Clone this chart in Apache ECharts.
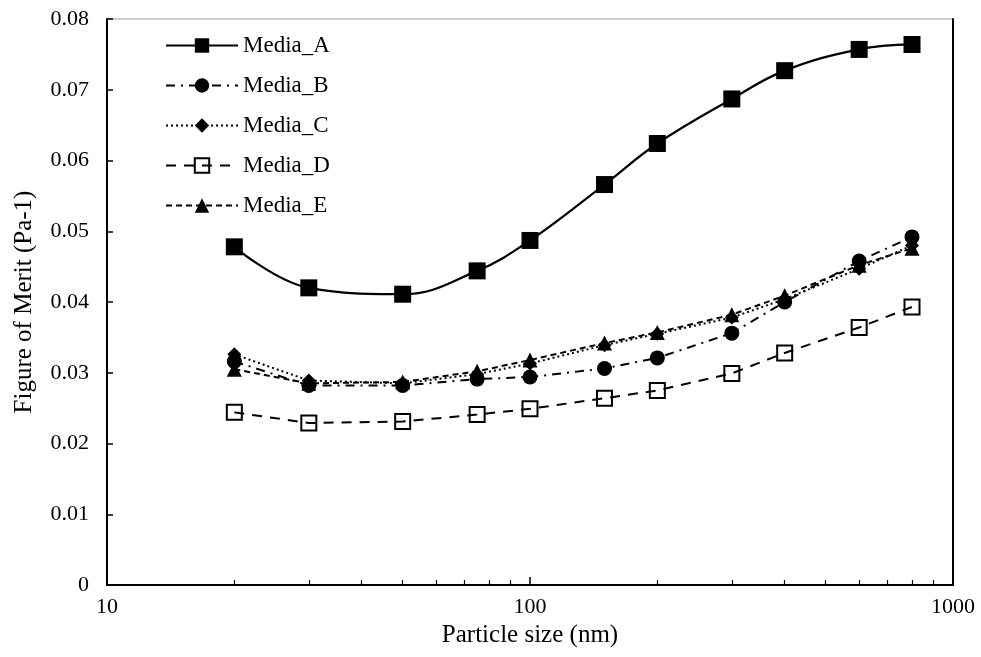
<!DOCTYPE html>
<html>
<head>
<meta charset="utf-8">
<script src="https://cdn.jsdelivr.net/npm/echarts@6/dist/echarts.min.js"></script>
<style>html,body{margin:0;padding:0;background:#fff;}#c{width:981px;height:657px;}</style>
</head>
<body>
<div id="c"></div>
<script>
var sizes = [20, 30, 50, 75, 100, 150, 200, 300, 400, 600, 800];
var mediaA = [0.0478, 0.0420, 0.0411, 0.0444, 0.0487, 0.0566, 0.0624, 0.0687, 0.0727, 0.0757, 0.0764];
var mediaB = [0.0316, 0.0282, 0.0282, 0.0291, 0.0294, 0.0306, 0.0321, 0.0356, 0.0400, 0.0458, 0.0492];
var mediaC = [0.0326, 0.0289, 0.0285, 0.0298, 0.0313, 0.0339, 0.0355, 0.0378, 0.0404, 0.0447, 0.0480];
var mediaD = [0.0244, 0.0229, 0.0231, 0.0241, 0.0249, 0.0264, 0.0275, 0.0299, 0.0328, 0.0364, 0.0393];
var mediaE = [0.0305, 0.0285, 0.0287, 0.0302, 0.0318, 0.0342, 0.0357, 0.0382, 0.0409, 0.0452, 0.0476];
var minorTicks = [20, 30, 40, 50, 60, 70, 80, 90, 200, 300, 400, 500, 600, 700, 800, 900];

function pairs(vals) { return sizes.map(function (s, i) { return [s, vals[i]]; }); }

var FONT = 'Liberation Serif';
var chart = echarts.init(document.getElementById('c'), null, {renderer: 'canvas'});
var base = function (name, vals, symbol, symSize, lineType, extra) {
  var s = {
    name: name, type: 'line', data: pairs(vals), symbol: symbol, symbolSize: symSize,
    lineStyle: {color: '#000', width: 2, type: lineType},
    itemStyle: {color: '#000', borderColor: '#000', borderWidth: 0},
    emphasis: {disabled: true}, animation: false
  };
  if (extra) Object.keys(extra).forEach(function (k) { s[k] = extra[k]; });
  return s;
};
var option = {
  animation: false,
  grid: {left: 107, right: 28, top: 19, bottom: 72, show: true, borderColor: '#999', borderWidth: 1},
  legend: {
    left: 160, top: 29, orient: 'vertical', itemWidth: 72, itemHeight: 18, itemGap: 17,
    textStyle: {fontFamily: FONT, fontSize: 23, color: '#000', lineHeight: 20},
    data: ['Media_A', 'Media_B', 'Media_C', 'Media_D', 'Media_E']
  },
  xAxis: [{
    type: 'log', logBase: 10, min: 10, max: 1000,
    name: 'Particle size (nm)', nameLocation: 'middle', nameGap: 37,
    nameTextStyle: {fontFamily: FONT, fontSize: 25, color: '#000'},
    axisLine: {show: true, lineStyle: {color: '#000', width: 2}},
    axisTick: {show: true, inside: true, length: 8, lineStyle: {color: '#000', width: 1.5}},
    axisLabel: {fontFamily: FONT, fontSize: 22, color: '#000', margin: 11,
      formatter: function (v) { return String(Math.round(v)); }},
    splitLine: {show: false}
  }, {
    type: 'log', logBase: 10, min: 10, max: 1000, position: 'bottom',
    axisLine: {show: false},
    axisTick: {show: true, inside: true, length: 5, customValues: minorTicks, lineStyle: {color: '#000', width: 1.2}},
    axisLabel: {show: false},
    splitLine: {show: false}
  }],
  yAxis: [{
    type: 'value', min: 0, max: 0.08, interval: 0.01,
    name: 'Figure of Merit (Pa-1)', nameLocation: 'middle', nameGap: 70,
    nameTextStyle: {fontFamily: FONT, fontSize: 25, color: '#000'},
    axisLine: {show: true, lineStyle: {color: '#000', width: 2}},
    axisTick: {show: true, inside: true, length: 6, lineStyle: {color: '#000', width: 1.5}},
    axisLabel: {fontFamily: FONT, fontSize: 22, color: '#000', margin: 18,
      formatter: function (v) { return v === 0 ? '0' : v.toFixed(2); }},
    splitLine: {show: false}
  }, {
    type: 'value', min: 0, max: 0.08, position: 'right',
    axisLine: {show: true, lineStyle: {color: '#000', width: 2}},
    axisTick: {show: false}, axisLabel: {show: false}, splitLine: {show: false}
  }],
  series: [
    base('Media_A', mediaA, 'rect', 17, 'solid', {smooth: 0.4, lineStyle: {color: '#000', width: 2.2, type: 'solid'}}),
    base('Media_B', mediaB, 'circle', 15, [9, 6, 2, 6]),
    base('Media_C', mediaC, 'diamond', 14, [2, 3]),
    base('Media_D', mediaD, 'rect', 15, [10, 8], {itemStyle: {color: 'rgba(0,0,0,0)', borderColor: '#000', borderWidth: 2}}),
    base('Media_E', mediaE, 'triangle', 15, [6, 4])
  ]
};
chart.setOption(option);
</script>
</body>
</html>
